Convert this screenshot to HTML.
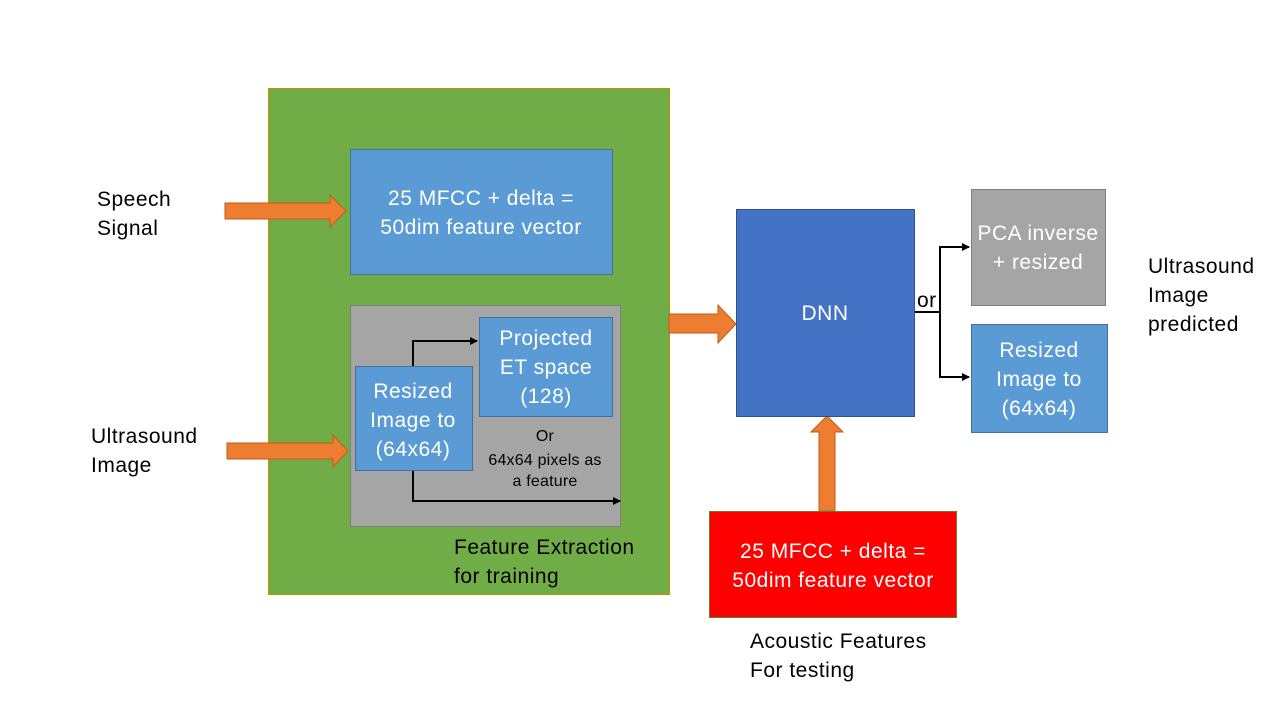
<!DOCTYPE html>
<html><head><meta charset="utf-8"><style>
body{margin:0;background:#fff}
svg text{font-family:"Liberation Sans",sans-serif;font-size:21px;letter-spacing:0.5px}
svg text.s{font-size:16px;letter-spacing:0.2px}
</style></head><body>
<svg width="1280" height="720" xmlns="http://www.w3.org/2000/svg">
<defs><marker id="a" markerWidth="8" markerHeight="8" refX="7" refY="4" orient="auto" markerUnits="userSpaceOnUse"><path d="M0,0 L8,4 L0,8z" fill="#000"/></marker></defs>
<rect width="1280" height="720" fill="#fff"/>
<rect x="268.5" y="88.5" width="401" height="506" fill="#70ad47" stroke="#c09000" stroke-width="1"/>
<rect x="350.5" y="149.5" width="262" height="125" fill="#5b9bd5" stroke="#41719c"/>
<text x="481" y="205" fill="#fff" text-anchor="middle">25 MFCC + delta =</text>
<text x="481" y="234" fill="#fff" text-anchor="middle">50dim feature vector</text>
<rect x="350.5" y="305.5" width="270" height="221" fill="#a5a5a5" stroke="#7f7f7f"/>
<rect x="355.5" y="366.5" width="117" height="104" fill="#5b9bd5" stroke="#41719c"/>
<text x="413" y="398" fill="#fff" text-anchor="middle">Resized</text>
<text x="413" y="427" fill="#fff" text-anchor="middle">Image to</text>
<text x="413" y="456" fill="#fff" text-anchor="middle">(64x64)</text>
<rect x="479.5" y="317.5" width="133" height="99" fill="#5b9bd5" stroke="#41719c"/>
<text x="546" y="345" fill="#fff" text-anchor="middle">Projected</text>
<text x="546" y="374" fill="#fff" text-anchor="middle">ET space</text>
<text x="546" y="403" fill="#fff" text-anchor="middle">(128)</text>
<text class="s" x="545" y="441" text-anchor="middle">Or</text>
<text class="s" x="545" y="465" text-anchor="middle">64x64 pixels as</text>
<text class="s" x="545" y="486" text-anchor="middle">a feature</text>
<path d="M413,366 V341 H477" fill="none" stroke="#000" stroke-width="2" marker-end="url(#a)"/>
<path d="M413,471 V501 H620" fill="none" stroke="#000" stroke-width="2" marker-end="url(#a)"/>
<text x="454" y="554">Feature Extraction</text>
<text x="454" y="583">for training</text>
<text x="97" y="206">Speech</text>
<text x="97" y="235">Signal</text>
<text x="91" y="443">Ultrasound</text>
<text x="91" y="472">Image</text>
<g fill="#ed7d31" stroke="#c55a11" stroke-width="1">
<path d="M225,203 H330 V195 L346,211 L330,227 V219 H225z"/>
<path d="M227,443 H333 V435 L348,451 L333,467 V459 H227z"/>
<path d="M669,314 H718 V305 L736,324 L718,343 V333 H669z"/>
<path d="M819,511 V432 H811 L827,416 L843,432 H835 V511z"/>
</g>
<rect x="736.5" y="209.5" width="178" height="207" fill="#4472c4" stroke="#2f528f"/>
<text x="825" y="320" fill="#fff" text-anchor="middle">DNN</text>
<path d="M915,312 H940 V247 H969" fill="none" stroke="#000" stroke-width="2" marker-end="url(#a)"/>
<path d="M940,312 V377 H969" fill="none" stroke="#000" stroke-width="2" marker-end="url(#a)"/>
<text x="917" y="307">or</text>
<rect x="971.5" y="189.5" width="134" height="116" fill="#a5a5a5" stroke="#7f7f7f"/>
<text x="1038" y="240" fill="#fff" text-anchor="middle">PCA inverse</text>
<text x="1038" y="269" fill="#fff" text-anchor="middle">+ resized</text>
<rect x="971.5" y="324.5" width="136" height="108" fill="#5b9bd5" stroke="#41719c"/>
<text x="1039" y="357" fill="#fff" text-anchor="middle">Resized</text>
<text x="1039" y="386" fill="#fff" text-anchor="middle">Image to</text>
<text x="1039" y="415" fill="#fff" text-anchor="middle">(64x64)</text>
<text x="1148" y="273">Ultrasound</text>
<text x="1148" y="302">Image</text>
<text x="1148" y="331">predicted</text>
<rect x="709.5" y="511.5" width="247" height="106" fill="#ff0000" stroke="#548235"/>
<text x="833" y="558" fill="#fff" text-anchor="middle">25 MFCC + delta =</text>
<text x="833" y="587" fill="#fff" text-anchor="middle">50dim feature vector</text>
<text x="750" y="648">Acoustic Features</text>
<text x="750" y="677">For testing</text>
</svg>
</body></html>
